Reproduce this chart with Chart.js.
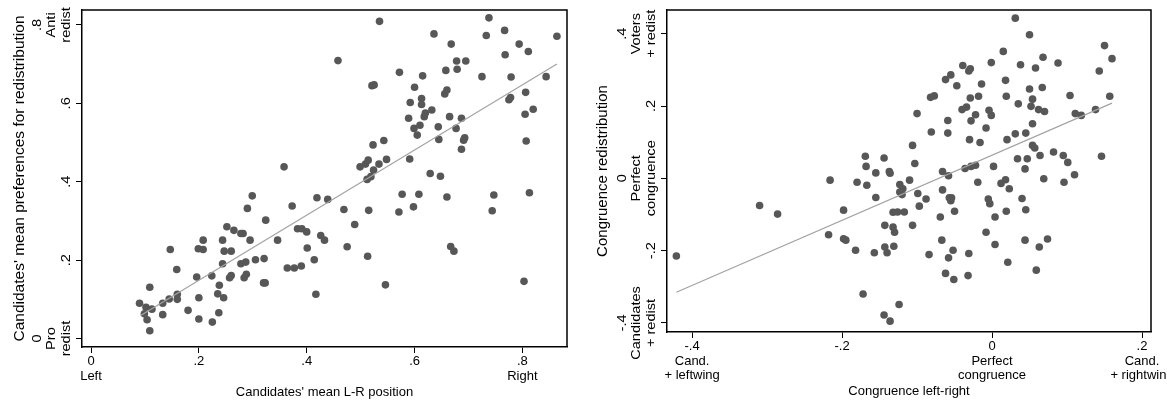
<!DOCTYPE html>
<html>
<head>
<meta charset="utf-8">
<script src="https://cdn.jsdelivr.net/npm/chart.js@4"></script>
<style>
  html, body { margin: 0; padding: 0; background: #fff; overflow: hidden; width: 1167px; height: 404px; }
  .panel { position: absolute; top: 0; }
  #leftPanel  { left: 0; }
  #rightPanel { left: 580px; }
</style>
</head>
<body>
<div class="panel" id="leftPanel"><canvas id="leftChart" width="580" height="404" style="width:580px;height:404px"></canvas></div>
<div class="panel" id="rightPanel"><canvas id="rightChart" width="650" height="404" style="width:650px;height:404px"></canvas></div>
<script>
// ── Left panel: candidates' L-R position vs redistribution preference ──
const lrPosition = [
  0.090, 0.102, 0.113, 0.099, 0.104, 0.109, 0.109, 0.133, 0.133, 0.145,
  0.147, 0.159, 0.160, 0.160, 0.180, 0.196, 0.199, 0.200, 0.200, 0.208,
  0.208, 0.224, 0.225, 0.235, 0.238, 0.237, 0.244, 0.244, 0.246, 0.247,
  0.252, 0.257, 0.260, 0.260, 0.265, 0.278, 0.282, 0.278, 0.287, 0.284,
  0.288, 0.290, 0.295, 0.299, 0.305, 0.320, 0.323, 0.321, 0.324, 0.346,
  0.358, 0.364, 0.373, 0.377, 0.383, 0.390, 0.391, 0.400, 0.401, 0.414,
  0.417, 0.419, 0.426, 0.433, 0.439, 0.458, 0.469, 0.475, 0.489, 0.499,
  0.509, 0.512, 0.513, 0.514, 0.515, 0.519, 0.521, 0.523, 0.525, 0.524,
  0.534, 0.535, 0.543, 0.546, 0.548, 0.571, 0.572, 0.577, 0.589, 0.592,
  0.591, 0.598, 0.599, 0.600, 0.605, 0.608, 0.610, 0.613, 0.613, 0.615,
  0.618, 0.620, 0.629, 0.632, 0.636, 0.644, 0.645, 0.648, 0.656, 0.660,
  0.658, 0.660, 0.665, 0.667, 0.668, 0.673, 0.677, 0.678, 0.679, 0.687,
  0.687, 0.691, 0.693, 0.695, 0.725, 0.733, 0.738, 0.744, 0.747, 0.767,
  0.768, 0.779, 0.775, 0.778, 0.794, 0.803, 0.805, 0.806, 0.807, 0.811,
  0.813, 0.820, 0.844, 0.864
];
const redistPref = [
  0.090, 0.080, 0.075, 0.063, 0.048, 0.131, 0.020, 0.090, 0.061, 0.101,
  0.227, 0.176, 0.113, 0.100, 0.072, 0.157, 0.229, 0.104, 0.050, 0.251,
  0.227, 0.160, 0.042, 0.114, 0.136, 0.066, 0.191, 0.251, 0.104, 0.223,
  0.285, 0.155, 0.223, 0.161, 0.276, 0.268, 0.268, 0.191, 0.195, 0.155,
  0.164, 0.332, 0.251, 0.364, 0.201, 0.142, 0.142, 0.204, 0.302, 0.251,
  0.438, 0.180, 0.338, 0.180, 0.280, 0.185, 0.280, 0.272, 0.231, 0.201,
  0.113, 0.359, 0.263, 0.251, 0.355, 0.709, 0.329, 0.234, 0.291, 0.438,
  0.445, 0.406, 0.210, 0.455, 0.327, 0.413, 0.645, 0.494, 0.647, 0.430,
  0.445, 0.809, 0.505, 0.137, 0.457, 0.323, 0.679, 0.368, 0.562, 0.602,
  0.458, 0.336, 0.536, 0.641, 0.519, 0.368, 0.544, 0.612, 0.597, 0.670,
  0.566, 0.575, 0.421, 0.583, 0.777, 0.540, 0.508, 0.414, 0.624, 0.634,
  0.684, 0.361, 0.566, 0.235, 0.751, 0.223, 0.536, 0.708, 0.687, 0.562,
  0.483, 0.506, 0.512, 0.708, 0.668, 0.773, 0.818, 0.326, 0.366, 0.786,
  0.724, 0.667, 0.609, 0.615, 0.751, 0.146, 0.572, 0.628, 0.504, 0.732,
  0.372, 0.585, 0.668, 0.771
];
// fitted line end points
const leftFitX = [0.092, 0.864];
const leftFitY = [0.059, 0.700];

const leftXTicks  = [0, 0.2, 0.4, 0.6, 0.8];
const leftXLabels = [['0', 'Left'], ['.2'], ['.4'], ['.6'], ['.8', 'Right']];
const leftYTicks  = [0, 0.2, 0.4, 0.6, 0.8];
const leftYLabels = [['0', 'Pro', 'redist'], ['.2'], ['.4'], ['.6'], ['.8', 'Anti', 'redist']];

// ── Right panel: congruence left-right vs congruence redistribution ──
const congLR = [
  -0.421, -0.310, -0.286, -0.216, -0.218, -0.198, -0.198, -0.195, -0.182, -0.180,
  -0.172, -0.169, -0.168, -0.167, -0.157, -0.155, -0.155, -0.144, -0.143, -0.143,
  -0.144, -0.140, -0.137, -0.136, -0.136, -0.132, -0.132, -0.130, -0.131, -0.126,
  -0.124, -0.123, -0.123, -0.120, -0.119, -0.117, -0.110, -0.106, -0.106, -0.103,
  -0.100, -0.099, -0.097, -0.088, -0.084, -0.082, -0.081, -0.077, -0.069, -0.067,
  -0.066, -0.066, -0.062, -0.062, -0.059, -0.059, -0.058, -0.058, -0.057, -0.055,
  -0.055, -0.054, -0.052, -0.051, -0.050, -0.047, -0.040, -0.039, -0.036, -0.034,
  -0.032, -0.031, -0.030, -0.031, -0.029, -0.029, -0.028, -0.028, -0.022, -0.022,
  -0.019, -0.018, -0.016, -0.014, -0.008, -0.008, -0.005, -0.004, -0.003, -0.001,
  -0.001,  0.002,  0.004,  0.004,  0.012,  0.015,  0.018,  0.018,  0.019,  0.019,
   0.020,  0.021,  0.023,  0.031,  0.031,  0.034,  0.035,  0.038,  0.040,  0.044,
   0.044,  0.045,  0.045,  0.047,  0.050,  0.050,  0.052,  0.054,  0.054,  0.054,
   0.057,  0.058,  0.059,  0.062,  0.063,  0.064,  0.067,  0.068,  0.069,  0.070,
   0.074,  0.082,  0.088,  0.095,  0.096,  0.101,  0.104,  0.110,  0.111,  0.119,
   0.138,  0.143,  0.146,  0.150,  0.157,  0.160
];
const congRedist = [
  -0.215, -0.075, -0.099, -0.005, -0.156, -0.088, -0.167, -0.171, -0.199, -0.011,
  -0.320,  0.061,  0.033, -0.019, -0.206,  0.015, -0.053,  0.056, -0.190, -0.130,
  -0.378, -0.206,  0.019,  0.014, -0.395, -0.094, -0.135, -0.149, -0.188, -0.093,
  -0.349, -0.017, -0.038, -0.045, -0.029, -0.093, -0.005, -0.130,  0.091,  0.041,
   0.179, -0.042, -0.077, -0.057, -0.211,  0.224,  0.128,  0.228, -0.107, -0.171,
   0.019, -0.032,  0.273, -0.263,  0.160,  0.125, -0.220,  0.007, -0.054,  0.286,
  -0.062, -0.054, -0.199, -0.280, -0.091,  0.256,  0.190,  0.312,  0.027,  0.197,
  -0.269,  0.297,  0.107, -0.208,  0.303,  0.222,  0.159,  0.033,  0.176,  0.036,
  -0.011,  0.227,  0.099,  0.261,  0.139, -0.149, -0.057,  0.188, -0.070,  0.174,
   0.320,  0.033, -0.107, -0.183, -0.014,  0.351,  0.271, -0.004,  0.227, -0.091,
   0.107, -0.232, -0.029,  0.123,  0.443,  0.054,  0.206,  0.314, -0.056,  0.026,
  -0.171,  0.125, -0.087,  0.054,  0.397,  0.247,  0.199,  0.219,  0.151,  0.091,
   0.084,  0.305, -0.254,  0.190, -0.190,  0.063,  0.251,  0.335, -0.001,  0.185,
  -0.168,  0.073,  0.319,  0.063, -0.011,  0.044,  0.229,  0.010,  0.179,  0.174,
   0.190,  0.297,  0.061,  0.367,  0.227,  0.331
];
const rightFitX = [-0.421, 0.160];
const rightFitY = [-0.315, 0.208];

const rightXTicks  = [-0.4, -0.2, 0, 0.2];
const rightXLabels = [['-.4', 'Cand.', '+ leftwing'], ['-.2'], ['0', 'Perfect', 'congruence'], ['.2', 'Cand.', '+ rightwing']];
const rightYTicks  = [-0.4, -0.2, 0, 0.2, 0.4];
const rightYLabels = [['-.4', 'Candidates', '+ redist'], ['-.2'], ['0', 'Perfect', 'congruence'], ['.2'], ['.4', 'Voters', '+ redist']];

// ── Shared look ───────────────────────────────────────────────
const FONT = '"Liberation Sans", Arial, sans-serif';
Chart.defaults.font.family = FONT;
Chart.defaults.color = '#000';

const DOT  = '#575757';
const FIT  = '#a3a3a3';

// rotated (Stata-style) y tick labels, last line next to the axis
const yTickText = {
  id: 'yTickText',
  afterDraw(chart, args, opts) {
    const { ctx, chartArea, scales } = chart;
    const y = scales.y;
    ctx.save();
    ctx.fillStyle = '#000';
    ctx.font = '13px ' + FONT;
    ctx.textAlign = 'center';
    ctx.textBaseline = 'alphabetic';
    opts.values.forEach((v, i) => {
      const lines = opts.labels[i];
      const py = y.getPixelForValue(v);
      lines.forEach((line, j) => {
        const bx = chartArea.left - 12.5 - (lines.length - 1 - j) * 14.5;
        ctx.save();
        ctx.translate(bx, py);
        ctx.rotate(-Math.PI / 2);
        ctx.scale(1.12, 1);
        ctx.fillText(line, 0, 0);
        ctx.restore();
      });
    });
    ctx.restore();
  }
};

// top and right sides of the plot box
const plotBox = {
  id: 'plotBox',
  afterDraw(chart) {
    const { ctx, chartArea: a } = chart;
    ctx.save();
    ctx.strokeStyle = '#000';
    ctx.lineWidth = 1.5;
    ctx.beginPath();
    ctx.moveTo(a.left, a.top);
    ctx.lineTo(a.right, a.top);
    ctx.lineTo(a.right, a.bottom);
    ctx.stroke();
    ctx.restore();
  }
};

function makePanel(id, cfg) {
  const points = cfg.xs.map((x, i) => ({ x: x, y: cfg.ys[i] }));
  const fit = cfg.fitX.map((x, i) => ({ x: x, y: cfg.fitY[i] }));

  return new Chart(document.getElementById(id), {
    type: 'scatter',
    data: {
      datasets: [
        {
          type: 'line',
          data: fit,
          borderColor: FIT,
          borderWidth: 1.2,
          pointRadius: 0,
          fill: false,
          order: 0
        },
        {
          data: points,
          backgroundColor: DOT,
          borderWidth: 0,
          pointRadius: 3.8,
          pointHoverRadius: 3.8,
          order: 1
        }
      ]
    },
    options: {
      responsive: false,
      devicePixelRatio: 1,
      animation: false,
      layout: { padding: cfg.padding },
      plugins: {
        legend: { display: false },
        tooltip: { enabled: false },
        yTickText: { values: cfg.yTicks, labels: cfg.yLabels }
      },
      scales: {
        x: {
          min: cfg.xMin, max: cfg.xMax,
          afterBuildTicks: s => { s.ticks = cfg.xTicks.map(v => ({ value: v })); },
          afterFit: s => { s.height = cfg.xHeight; s.paddingLeft = 0; s.paddingRight = 0; },
          grid: { drawOnChartArea: false, drawTicks: true, tickLength: 6, color: '#000', lineWidth: 1 },
          border: { display: true, color: '#000', width: 1.5 },
          ticks: {
            padding: 1.5,
            maxRotation: 0,
            font: { size: 13, lineHeight: 1.12 },
            callback: (v, i) => cfg.xLabels[i]
          },
          title: {
            display: true,
            text: cfg.xTitle,
            font: { size: 13 },
            padding: { top: 0, bottom: cfg.xTitlePad }
          }
        },
        y: {
          min: cfg.yMin, max: cfg.yMax,
          afterBuildTicks: s => { s.ticks = cfg.yTicks.map(v => ({ value: v })); },
          afterFit: s => { s.width = cfg.yWidth; s.paddingTop = 0; s.paddingBottom = 0; },
          grid: { drawOnChartArea: false, drawTicks: true, tickLength: 6, color: '#000', lineWidth: 1 },
          border: { display: true, color: '#000', width: 1.5 },
          ticks: { display: false },
          title: {
            display: true,
            text: cfg.yTitle,
            font: { size: cfg.yTitleSize },
            padding: { top: cfg.yTitlePad, bottom: 0 }
          }
        }
      }
    },
    plugins: [yTickText, plotBox]
  });
}

makePanel('leftChart', {
  xs: lrPosition, ys: redistPref, fitX: leftFitX, fitY: leftFitY,
  xMin: -0.0167, xMax: 0.8827, yMin: -0.0215, yMax: 0.838,
  xTicks: leftXTicks, xLabels: leftXLabels, yTicks: leftYTicks, yLabels: leftYLabels,
  xTitle: "Candidates' mean L-R position",
  yTitle: "Candidates' mean preferences for redistribution",
  padding: { left: 0, top: 10, right: 13, bottom: 0 },
  xHeight: 57, yWidth: 82, xTitlePad: 4, yTitlePad: 10, yTitleSize: 15.5
});

makePanel('rightChart', {
  xs: congLR, ys: congRedist, fitX: rightFitX, fitY: rightFitY,
  xMin: -0.4335, xMax: 0.212, yMin: -0.425, yMax: 0.4655,
  xTicks: rightXTicks, xLabels: rightXLabels, yTicks: rightYTicks, yLabels: rightYLabels,
  xTitle: 'Congruence left-right',
  yTitle: 'Congruence redistribution',
  padding: { left: 0, top: 10, right: 79, bottom: 0 },
  xHeight: 72, yWidth: 87, xTitlePad: 5, yTitlePad: 14, yTitleSize: 15
});
</script>
</body>
</html>
